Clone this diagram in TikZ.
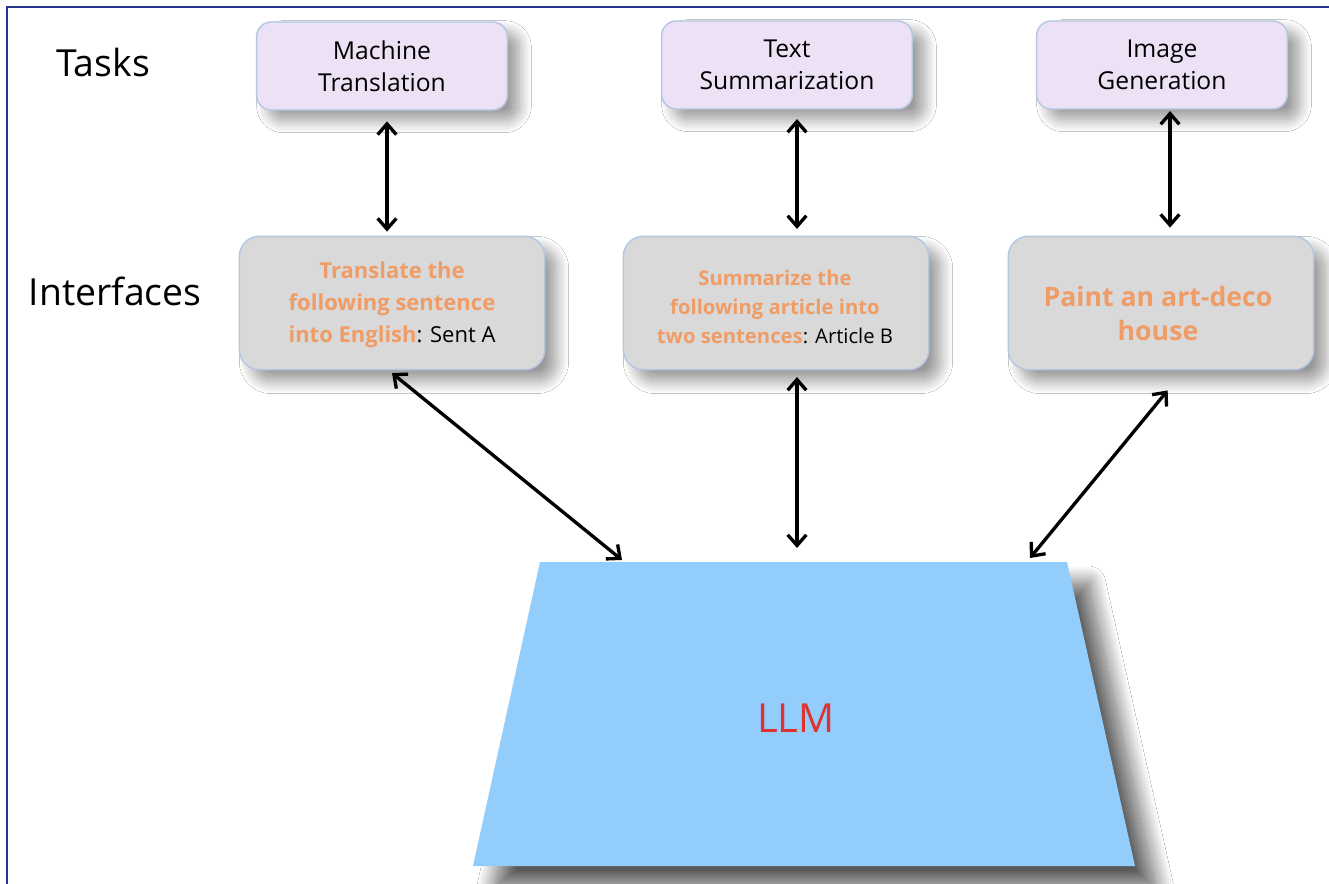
\documentclass[tikz,border=0pt]{standalone}
\usepackage{fontspec}
\setmainfont{Open Sans}
\usetikzlibrary{arrows.meta,shadows.blur}
\definecolor{frameblue}{RGB}{40,52,140}
\definecolor{tasklav}{RGB}{237,225,245}
\definecolor{boxedge}{RGB}{180,200,228}
\definecolor{ifgray}{RGB}{217,217,217}
\definecolor{prompt}{RGB}{240,156,102}
\definecolor{llmblue}{RGB}{147,205,251}
\definecolor{llmred}{RGB}{222,50,50}
\newcommand{\hlp}[1]{\textcolor{prompt}{\bfseries #1}}

\begin{document}
\begin{tikzpicture}[x=0.75pt,y=-0.75pt,
  taskbox/.style={draw=boxedge, line width=1.1pt, fill=tasklav,
    rounded corners=11pt, minimum width=188pt, minimum height=66pt,
    align=center, font=\fontsize{18.5}{24}\selectfont,
    blur shadow={shadow xshift=9pt, shadow yshift=-8pt,
      shadow blur radius=9pt, shadow blur steps=16, shadow opacity=40}},
  ifbox/.style={draw=boxedge, line width=1.1pt, fill=ifgray,
    rounded corners=15pt, minimum width=229pt, minimum height=100pt,
    blur shadow={shadow xshift=9pt, shadow yshift=-9pt,
      shadow blur radius=9pt, shadow blur steps=16, shadow opacity=40}},
  iftext/.style={align=center, inner sep=0pt},
  rowlabel/.style={font=\fontsize{28}{30}\selectfont},
  dbl/.style={{Straight Barb[length=8pt,width=14pt]}-{Straight Barb[length=8pt,width=14pt]},
    line width=2.5pt, black}
]
\useasboundingbox (0,0) rectangle (1329,884);
\fill[white] (0,0) rectangle (1329,884);

% outer frame
\draw[frameblue, line width=2pt] (7,884) -- (7,7) -- (1329,7);

% row labels
\node[rowlabel] (tasks) at (103,63) {Tasks};
\node[rowlabel] (interfaces) at (115,291) {Interfaces};

% task boxes
\node[taskbox] (task1) at (382,66) {Machine\\Translation};
\node[taskbox] (task2) at (787,65) {Text\\Summarization};
\node[taskbox] (task3) at (1162,65) {Image\\Generation};

% interface boxes
\node[ifbox] (if1) at (392,303) {};
\node[ifbox] (if2) at (776,303) {};
\node[ifbox] (if3) at (1161,303) {};
\node[iftext, font=\fontsize{16.5}{24}\selectfont] (if1t) at (392,305)
  {\hlp{Translate the}\\\hlp{following sentence}\\\hlp{into English}: Sent A};
\node[iftext, font=\fontsize{15.2}{22}\selectfont] (if2t) at (775,307)
  {\hlp{Summarize the}\\\hlp{following article into}\\\hlp{two sentences}: Article B};
\node[iftext, font=\fontsize{20}{25.5}\selectfont] (if3t) at (1158,314)
  {\hlp{Paint an art-deco}\\\hlp{house}};

% LLM block
\path[fill=llmblue, blur shadow={shadow xshift=16pt, shadow yshift=-16pt,
    shadow blur radius=13pt, shadow blur steps=24, shadow opacity=65}]
  (540,562) -- (1067,562) -- (1135,866) -- (473,866) -- cycle;
\node[font=\fontsize{30}{34}\selectfont, text=llmred] (llm) at (796,718) {LLM};
\coordinate (llmL) at (622,560);
\coordinate (llmM) at (797,548);
\coordinate (llmR) at (1030,558);

% connector columns
\coordinate (c1) at (387,0);
\coordinate (c2) at (797,0);
\coordinate (c3) at (1170,0);

% tasks <-> interfaces
\draw[dbl, shorten <=8pt, shorten >=3pt] (task1.south -| c1) -- (if1.north -| c1);
\draw[dbl, shorten <=7pt, shorten >=5pt] (task2.south -| c2) -- (if2.north -| c2);
\draw[dbl, shorten <=1pt, shorten >=6pt] (task3.south -| c3) -- (if3.north -| c3);

% interfaces <-> LLM
\draw[dbl] ([yshift=-2pt]if1.south) -- (llmL);
\draw[dbl, shorten <=5pt] (if2.south -| c2) -- (llmM);
\draw[dbl] ([xshift=5pt,yshift=-15pt]if3.south) -- (llmR);
\end{tikzpicture}
\end{document}
